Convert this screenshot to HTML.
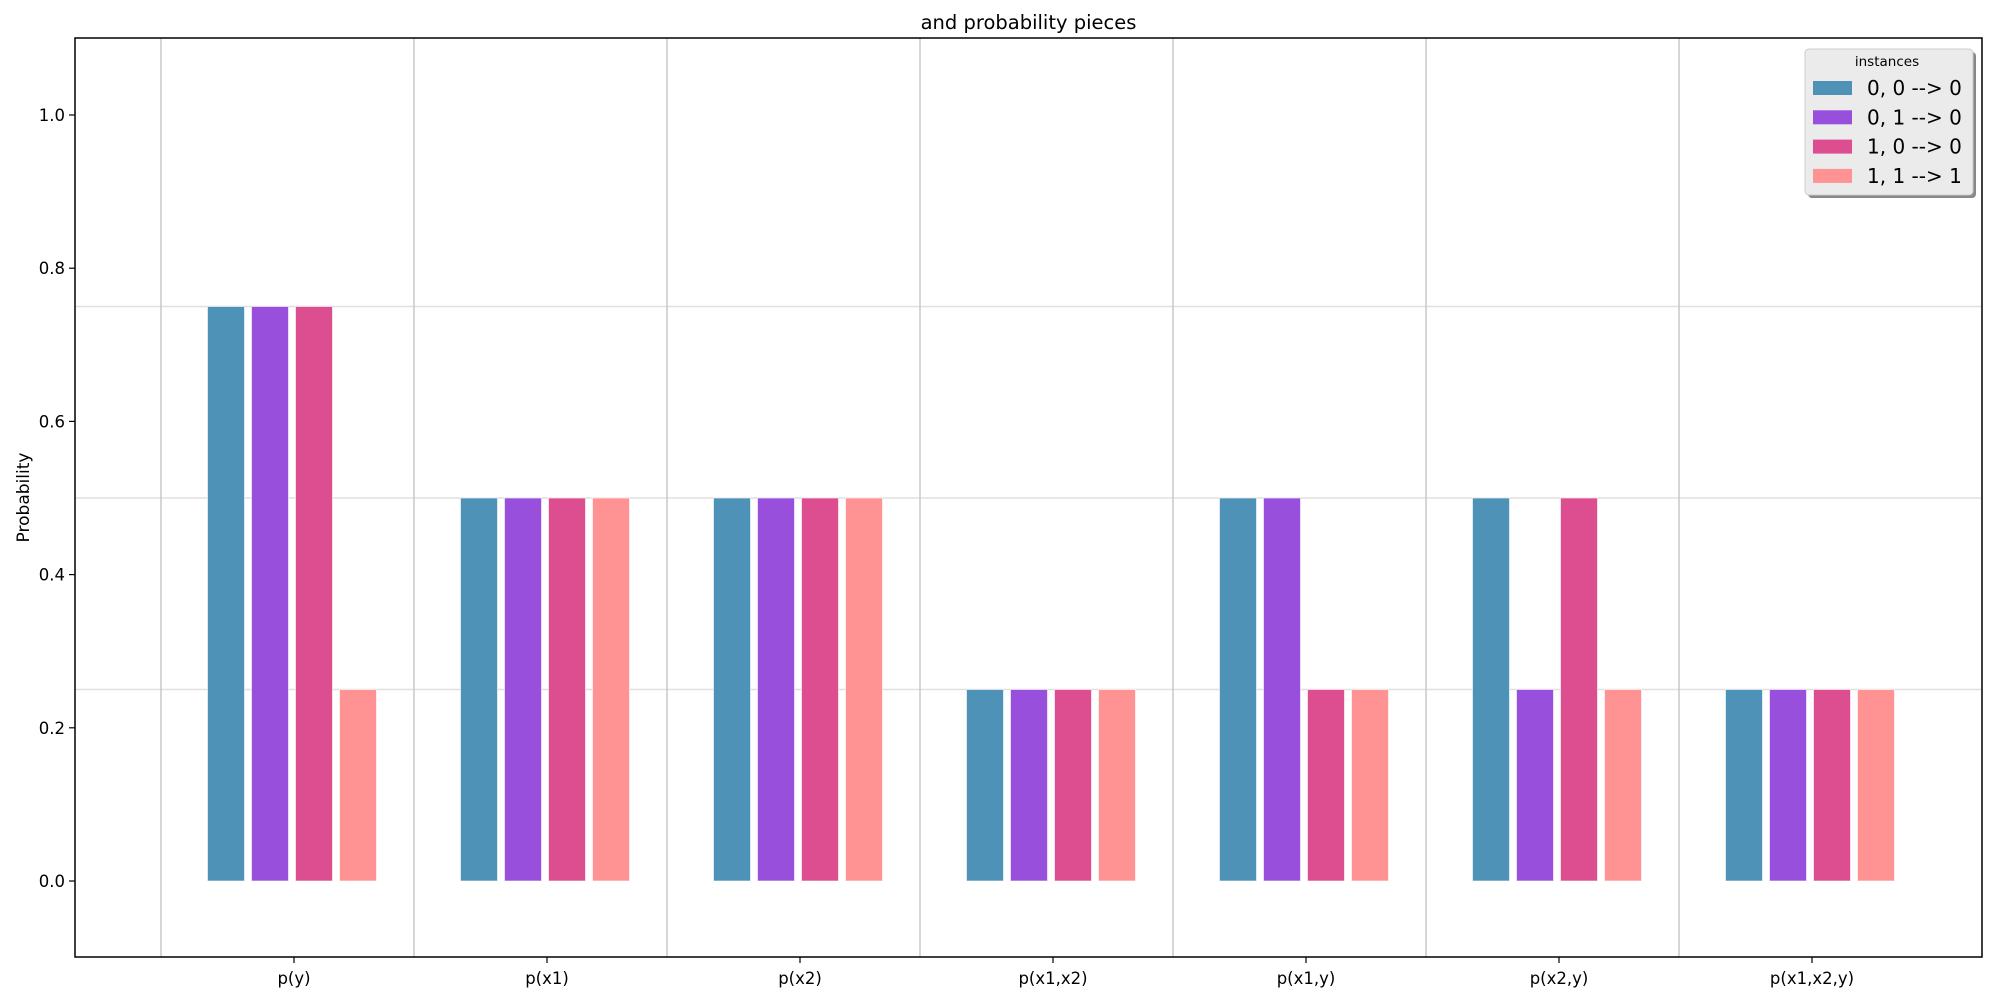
<!DOCTYPE html>
<html><head><meta charset="utf-8"><style>
html,body{margin:0;padding:0;background:#fff;}
svg{display:block;font-family:"DejaVu Sans","Liberation Sans",sans-serif;}
</style></head><body>
<svg id="chart" width="2000" height="1000" xmlns="http://www.w3.org/2000/svg"></svg>
<script>
const categories = ["p(y)","p(x1)","p(x2)","p(x1,x2)","p(x1,y)","p(x2,y)","p(x1,x2,y)"];
const seriesNames = ["0, 0 --> 0","0, 1 --> 0","1, 0 --> 0","1, 1 --> 1"];
const s00 = [0.75,0.5,0.5,0.25,0.5,0.5,0.25];
const s01 = [0.75,0.5,0.5,0.25,0.5,0.25,0.25];
const s10 = [0.75,0.5,0.5,0.25,0.25,0.5,0.25];
const s11 = [0.25,0.5,0.5,0.25,0.25,0.25,0.25];
const yTicks = [0.0,0.2,0.4,0.6,0.8,1.0];
const yTickLabels = ["0.0","0.2","0.4","0.6","0.8","1.0"];
const hGrid = [0.25,0.5,0.75];

const series = [s00,s01,s10,s11];
const colors = ["#4e93b7","#974fdc","#dc4e90","#ff9393"];
const NS = "http://www.w3.org/2000/svg";
const svg = document.getElementById("chart");
const L=75,R=1982,T=38,B=957;
const xStep=253, x0=294;
const y = v => 881 - v*766;
const x = i => x0 + i*xStep;
function el(tag, attrs, parent){const e=document.createElementNS(NS,tag);for(const k in attrs)e.setAttribute(k,attrs[k]);(parent||svg).appendChild(e);return e;}

let t = el("text",{x:(L+R)/2,y:29,"text-anchor":"middle","font-size":"19.5"});
t.textContent="and probability pieces";



hGrid.forEach(v=>{
  const g=el("line",{x1:L,x2:R,y1:y(v),y2:y(v),stroke:"#e0e0e0","stroke-width":"1.5"});
  
  
});
categories.forEach((c,i)=>{
  const g=el("line",{x1:x(i)-133,x2:x(i)-133,y1:T,y2:B,stroke:"#c8c8c8","stroke-width":"1.5"});
  
  
});
const barStep=44, barW=37;
series.forEach((s,si)=>{
  s.forEach((v,i)=>{
    const cx = x(i) + (si-1.5)*barStep - 2;
    const r=el("rect",{x:cx-barW/2,y:y(v),width:barW,height:y(0)-y(v),fill:colors[si],stroke:"#ffffff","stroke-opacity":"0.6","stroke-width":"1"});
    
    
  });
});
const fr=el("rect",{x:L,y:T,width:R-L,height:B-T,fill:"none",stroke:"#000","stroke-width":"1.5"});


yTicks.forEach((v,i)=>{
  el("line",{x1:L-6,x2:L,y1:y(v),y2:y(v),stroke:"#000","stroke-width":"1.2"});
  const tl=el("text",{x:L-10,y:y(v)+6,"text-anchor":"end","font-size":"16.5"});
  tl.textContent=yTickLabels[i];
  
  
});
categories.forEach((c,i)=>{
  el("line",{x1:x(i),x2:x(i),y1:B,y2:B+6,stroke:"#000","stroke-width":"1.2"});
  const tl=el("text",{x:x(i),y:B+27,"text-anchor":"middle","font-size":"16.5"});
  tl.textContent=c;
  
  
});
const yl=el("text",{x:0,y:0,"text-anchor":"middle","font-size":"17",transform:"translate(29,"+((T+B)/2)+") rotate(-90)"});
yl.textContent="Probability";



const lg=el("g",{});


el("rect",{x:1808,y:52,width:168,height:146,rx:4,fill:"#888"},lg);
el("rect",{x:1805,y:49,width:168,height:146,rx:4,fill:"#ebebeb",stroke:"#cccccc","stroke-width":"1"},lg);
const lt=el("text",{x:1887,y:66,"text-anchor":"middle","font-size":"13.5"},lg);
lt.textContent="instances";
seriesNames.forEach((n,i)=>{
  const yy=88+i*29.3;
  const p=el("rect",{x:1813,y:yy-7,width:39,height:14,fill:colors[i]},lg);
  
  
  const tx=el("text",{x:1867,y:yy+7,"font-size":"20"},lg);
  tx.textContent=n;
  
  
});
</script>
</body></html>
